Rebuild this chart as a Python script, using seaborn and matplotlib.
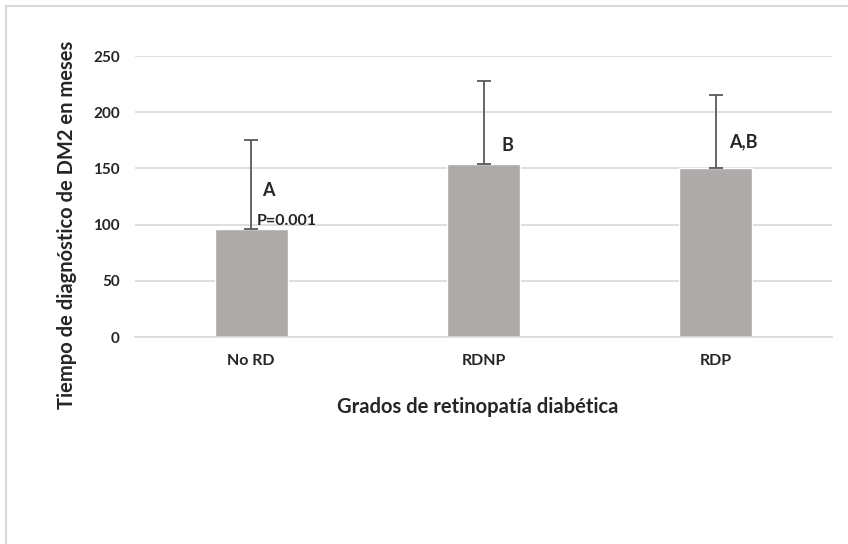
import matplotlib
matplotlib.use("Agg")
import matplotlib.pyplot as plt
import seaborn as sns
import pandas as pd
from matplotlib.patches import Rectangle

categories = ["No RD", "RDNP", "RDP"]
means = [96, 154, 150]
upper = [175, 228, 215]
letters = ["A", "B", "A,B"]
pvalue_text = "P=0.001"
yticks = [0, 50, 100, 150, 200, 250]

sns.set_theme(style="white")
plt.rcParams['font.family'] = ['Lato', 'DejaVu Sans']

fig = plt.figure(figsize=(8.48, 5.44), dpi=100)
ax = fig.add_axes([135/848, 0.3805, 697/848, 0.5165])

df = pd.DataFrame({"cat": categories, "val": means})
sns.barplot(data=df, x="cat", y="val", color="#AEAAAA", saturation=1,
            width=0.315, ax=ax, errorbar=None)

err_up = [u - m for u, m in zip(upper, means)]
ax.errorbar(range(len(categories)), means, yerr=[[0]*len(means), err_up],
            fmt="none", ecolor="#595959", elinewidth=1.3, capsize=5, capthick=1.3, zorder=3)

ax.set_ylim(0, 250)
ax.set_xlim(-0.5, 2.5)
ax.set_yticks(yticks)
ax.set_yticklabels([str(t) for t in yticks], fontsize=11, fontweight="bold")
ax.set_xticks(range(len(categories)))
ax.set_xticklabels(categories, fontsize=11.5, fontweight="bold")
ax.tick_params(axis="y", length=0, pad=11)
ax.tick_params(axis="x", length=0, pad=12)
ax.yaxis.grid(True, color="#D9D9D9", linewidth=1.2)
ax.set_axisbelow(True)
for s in ["top", "right", "left"]:
    ax.spines[s].set_visible(False)
ax.spines["bottom"].set_color("#D9D9D9")
ax.spines["bottom"].set_linewidth(1.2)

ax.set_ylabel("Tiempo de diagnóstico de DM2 en meses", fontsize=14.5, fontweight="bold")
ax.set_xlabel("Grados de retinopatía diabética", fontsize=14.5, fontweight="bold")
ax.yaxis.set_label_coords(-0.083, 0.40)
ax.xaxis.set_label_coords(0.492, -0.214)

# annotation letters
letter_pos = [(0.047, 130), (0.078, 170), (0.056, 174)]
for i, (lt, (dx, y)) in enumerate(zip(letters, letter_pos)):
    ax.text(i + dx, y, lt, fontsize=13, fontweight="bold", ha="left", va="center")
ax.text(0.026, 103, pvalue_text, fontsize=11.5, fontweight="bold", ha="left", va="center")

fig.patches.append(Rectangle((6/848, -0.1), 1.2, 1 - 6/544 + 0.1, transform=fig.transFigure,
                             fill=False, edgecolor="#D9D9D9", linewidth=1.5))

fig.savefig("out.png", dpi=100, facecolor="white")
